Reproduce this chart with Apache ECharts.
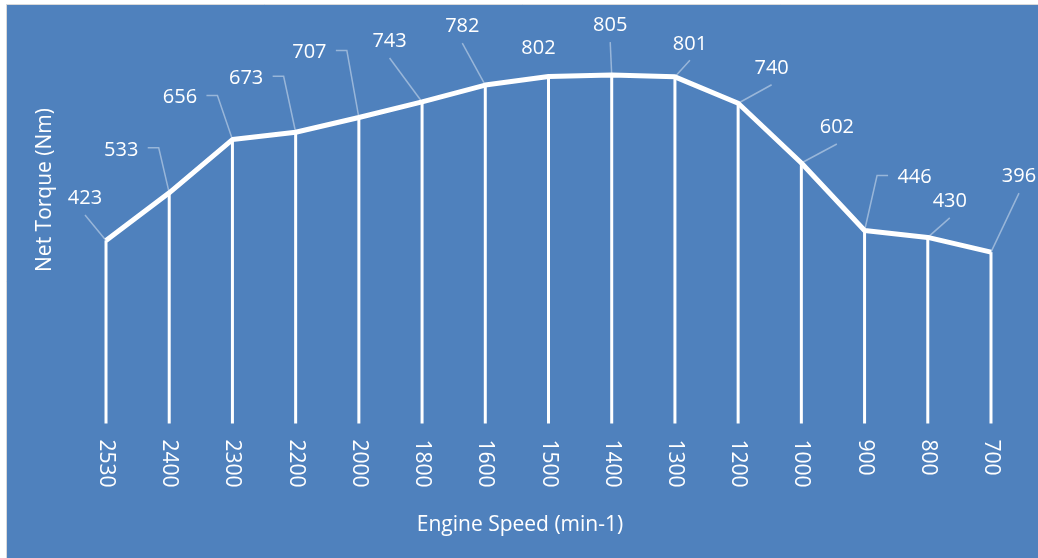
<!DOCTYPE html>
<html>
<head>
<meta charset="utf-8">
<script src="https://cdn.jsdelivr.net/npm/echarts@6/dist/echarts.min.js"></script>
<style>
  html, body { margin: 0; padding: 0; background: #fff; }
  #chart { width: 1038px; height: 558px; }
</style>
</head>
<body>
<div id="chart"></div>
<script>
// Engine speed categories (min-1) and net torque values (Nm)
const engineSpeeds = ['2530', '2400', '2300', '2200', '2000', '1800', '1600', '1500', '1400', '1300', '1200', '1000', '900', '800', '700'];
const netTorque = [423, 533, 656, 673, 707, 743, 782, 802, 805, 801, 740, 602, 446, 430, 396];

// Value-label placement: offset of each label centre from its point (px)
const labelOffsets = [[-21, -42], [-48, -43], [-52.5, -42], [-49.5, -54], [-49.5, -65], [-32.5, -60.5], [-23, -58.5], [-10, -28], [-1.5, -49.5], [15, -33], [33.5, -35], [35.5, -35.5], [50, -53], [22, -36], [28, -75.5]];
// Side of the label that its leader line leaves from ('' = no leader)
const leaderSide = ['bottom', 'right', 'right', 'right', 'right', 'bottom', 'bottom', '', 'bottom', 'bottom', 'bottom', 'bottom', 'left', 'bottom', 'bottom'];

const FONT = '"Open Sans", "Noto Sans", sans-serif';
const BG = '#4F81BD';
const LEADER_COLOR = 'rgba(255,255,255,0.42)';
const LEADER_GAP = 9;      // space between text and leader start
const LEADER_ELBOW = 11;   // horizontal run of side leaders
const TEXT_HALF_H = 7.5;   // half the visible digit height
const TEXT_HALF_W = 17.5;  // half the width of a three-digit label

const chart = echarts.init(document.getElementById('chart'), null, { renderer: 'canvas' });

// leader line from a value label to its point
function renderLeader(params, api) {
  const i = params.dataIndex;
  const side = leaderSide[i];
  if (!side) return { type: 'group', children: [] };
  const pt = api.coord([api.value(0), api.value(1)]);
  const cx = pt[0] + labelOffsets[i][0];
  const cy = pt[1] + labelOffsets[i][1];
  let points;
  if (side === 'right') {
    const sx = cx + TEXT_HALF_W + LEADER_GAP;
    points = [[sx, cy - 2], [sx + LEADER_ELBOW, cy - 2], pt];
  } else if (side === 'left') {
    const sx = cx - TEXT_HALF_W - LEADER_GAP;
    points = [[sx, cy - 2], [sx - LEADER_ELBOW, cy - 2], pt];
  } else {
    points = [[cx, cy + TEXT_HALF_H + LEADER_GAP], pt];
  }
  return {
    type: 'polyline',
    shape: { points: points },
    style: { stroke: LEADER_COLOR, lineWidth: 1.5, fill: null }
  };
}

chart.setOption({
  backgroundColor: '#fff',
  animation: false,
  graphic: [
    {
      type: 'rect', z: -10, silent: true,
      shape: { x: 6.5, y: 4.5, width: 1040, height: 560 },
      style: { fill: BG, stroke: '#D9D9D9', lineWidth: 1 }
    },
    {
      type: 'text', x: 520, y: 525, silent: true,
      style: { text: 'Engine Speed (min-1)', fill: '#fff', fontSize: 21, fontFamily: FONT, align: 'center', verticalAlign: 'middle' }
    },
    {
      type: 'text', x: 45, y: 190, rotation: Math.PI / 2, silent: true,
      style: { text: 'Net Torque (Nm)', fill: '#fff', fontSize: 21, fontFamily: FONT, align: 'center', verticalAlign: 'middle' }
    }
  ],
  grid: { left: 74.4, right: 15.4, top: 34, bottom: 134.5, containLabel: false, outerBoundsMode: 'none' },
  xAxis: {
    type: 'category',
    data: engineSpeeds,
    boundaryGap: true,
    axisLine: { show: false },
    axisTick: { show: false },
    splitLine: { show: false },
    axisLabel: { color: '#fff', rotate: -90, margin: 16, fontSize: 21, fontFamily: FONT }
  },
  yAxis: { type: 'value', min: 0, max: 900, show: false, splitLine: { show: false } },
  series: [
    {
      // drop lines from each point to the axis
      type: 'bar',
      data: netTorque,
      barWidth: 3,
      barGap: '-100%',
      silent: true,
      itemStyle: { color: '#fff' },
      z: 1
    },
    {
      type: 'custom',
      data: netTorque.map((v, i) => [i, v]),
      renderItem: renderLeader,
      silent: true,
      z: 2
    },
    {
      type: 'line',
      data: netTorque,
      symbol: 'circle',
      symbolSize: 1,
      showSymbol: true,
      itemStyle: { color: '#fff' },
      lineStyle: { color: '#fff', width: 5 },
      z: 3,
      label: {
        show: true,
        position: 'inside',
        color: '#fff',
        fontSize: 20,
        fontFamily: FONT
      },
      labelLayout: function (p) {
        const o = labelOffsets[p.dataIndex];
        return { dx: o[0], dy: o[1] };
      }
    }
  ]
});
</script>
</body>
</html>
